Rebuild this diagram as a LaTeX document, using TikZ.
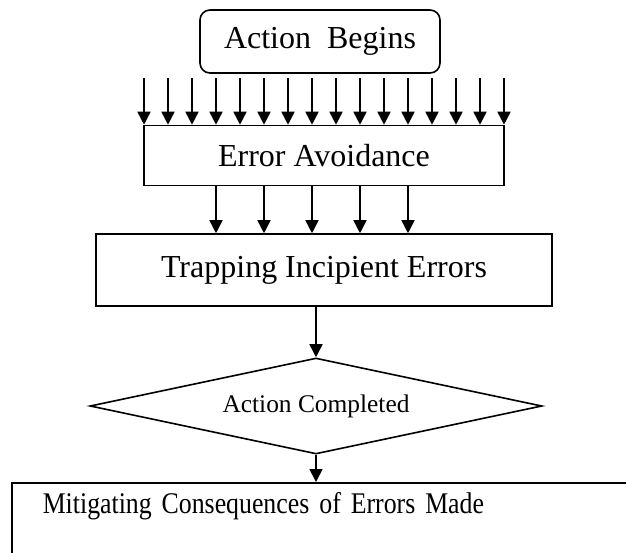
\documentclass[tikz,border=0pt]{standalone}
\usepackage{fontspec}
\setmainfont{Liberation Serif}
\newfontfamily\narrowserif[FakeStretch=0.86]{Liberation Serif}
\usetikzlibrary{shapes.geometric, arrows.meta, calc}

\tikzset{
  box/.style={draw, line width=0.8pt, inner sep=0pt, font=\fontsize{16}{19}\selectfont},
  roundbox/.style={box, rounded corners=5pt},
  decision/.style={draw, diamond, line width=0.8pt, aspect=4.7, inner sep=0pt, font=\fontsize{12.7}{15}\selectfont},
  flow/.style={->, line width=0.8pt},
}

\begin{document}
\begin{tikzpicture}[x=0.5pt, y=-0.5pt, >={Triangle[width=6.5pt,length=6.5pt]}]
        \useasboundingbox (0,0) rectangle (626,552);

        % Boxes
        \node[roundbox, minimum width=120pt, minimum height=31.5pt] (begins) at (320,41.5) {Action\ \ Begins};
        \node[box, minimum width=180pt, minimum height=30pt] (avoid) at (324,155.5) {Error Avoidance};
        \node[box, minimum width=228pt, minimum height=36pt] (trap) at (324,270) {Trapping Incipient Errors};
        \node[decision, minimum width=226pt, minimum height=48pt] (done) at (316,406) {Action Completed};
        \node[box, anchor=north west, text width=282pt, align=left, inner xsep=15.5pt, inner ysep=5pt,
              text height=10.5pt, text depth=40pt, font=\narrowserif\fontsize{15}{18}\selectfont] (mitig) at (11,482)
              {Mitigating Consequences of Errors Made};

        % Arrows into error avoidance
        \foreach \i in {0,...,15} {
            \coordinate (top\i) at (144+24*\i,78);
            \draw[flow] (top\i) -- (top\i |- avoid.north);
        }

        % Arrows into trapping
        \foreach \i in {0,...,4} {
            \coordinate (down\i) at (216+48*\i,0);
            \draw[flow] (down\i |- avoid.south) -- (down\i |- trap.north);
        }

        % Arrows through the decision
        \draw[flow] (done.north |- trap.south) -- (done.north);
        \draw[flow] (done.south) -- (done.south |- mitig.north);
    \end{tikzpicture}
\end{document}
